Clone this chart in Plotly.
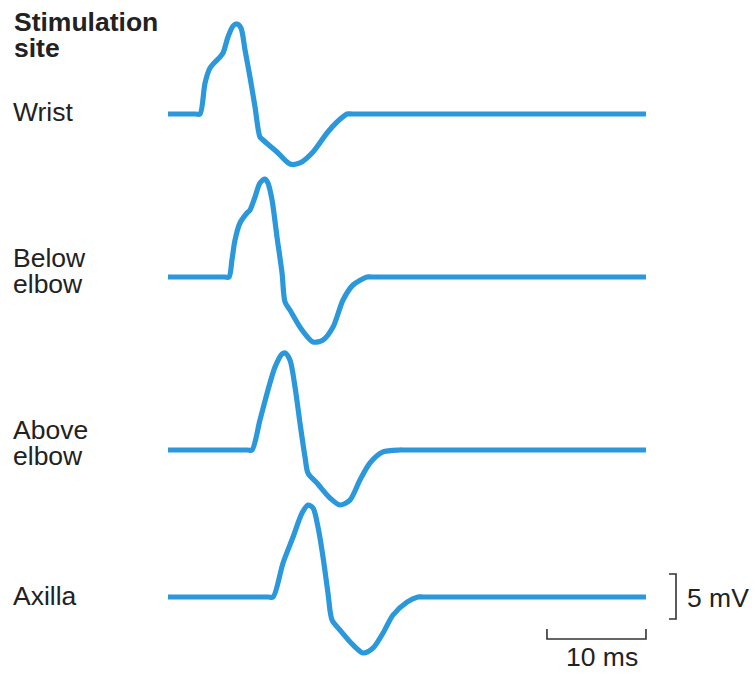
import plotly.graph_objects as go

# ---- Data (time in ms, amplitude in mV relative to baseline) ----
sites = ["Wrist", "Below elbow", "Above elbow", "Axilla"]

wrist_t = [0, 2.8, 3.23, 3.74, 4.24, 4.75, 5.25, 5.56, 6.06, 6.57, 6.97, 7.37, 7.78, 8.28, 8.79,
           9.29, 9.60, 11.01, 12.32, 13.33, 14.65, 16.06, 17.07, 18.08, 18.6, 48.28]
wrist_v = [0, 0, 0, 3.44, 5.11, 5.78, 6.33, 6.78, 8.56, 9.78, 10.0, 9.56, 7.11, 4.11, 0.78,
           -2.56, -2.89, -4.22, -5.56, -5.44, -4.22, -2.11, -0.89, 0, 0, 0]

below_t = [0, 5.7, 6.16, 6.46, 6.77, 7.27, 7.98, 8.28, 8.79, 9.29, 9.80, 10.10, 10.51, 11.01, 11.52,
           11.82, 12.32, 13.33, 14.65, 15.66, 16.67, 17.68, 18.69, 20.10, 20.6, 48.28]
below_v = [0, 0, 0, 1.89, 4.11, 6.0, 7.11, 7.44, 8.89, 10.44, 10.89, 10.44, 8.56, 4.44, 0.44,
           -2.78, -3.67, -5.56, -7.22, -7.0, -5.56, -2.56, -0.89, 0, 0, 0]

above_t = [0, 8.0, 8.48, 9.29, 10.10, 10.81, 11.52, 11.82, 12.32, 12.83, 13.33, 13.84, 14.14, 15.05,
           16.36, 17.37, 18.38, 19.39, 20.40, 21.72, 23.43, 23.9, 48.28]
above_v = [0, 0, 0, 3.33, 6.67, 9.22, 10.67, 10.78, 10.0, 7.0, 3.0, -0.78, -2.56, -3.67,
           -5.33, -6.11, -5.56, -3.33, -1.44, -0.22, 0, 0, 0]

axilla_t = [0, 10.1, 10.61, 11.62, 12.63, 13.54, 14.14, 14.65, 15.15, 15.66, 16.16, 16.57, 17.37,
            18.69, 19.70, 20.71, 21.72, 22.73, 24.14, 25.25, 25.8, 48.28]
axilla_v = [0, 0, 0, 3.78, 6.67, 9.33, 10.22, 9.89, 7.78, 4.44, 0.44, -2.56, -3.67,
            -5.33, -6.22, -5.67, -4.0, -2.0, -0.56, 0, 0, 0]

scale_ms = 10
scale_mv = 5
scale_labels = ["10 ms", "5 mV"]

# ---- Layout constants ----
W, H = 754, 673
PX_PER_MS = 9.9
PX_PER_MV = 9.0
X0_PX = 168
baselines_px = [114, 277, 450, 597]
offsets = [-b / PX_PER_MV for b in baselines_px]

COLOR = "#2a98da"
TEXT = "#222222"
FONT = "Liberation Sans, Arial, Helvetica, sans-serif"
FS = 26.5

series = [(wrist_t, wrist_v), (below_t, below_v), (above_t, above_v), (axilla_t, axilla_v)]

fig = go.Figure()
for name, (t, v), off in zip(sites, series, offsets):
    fig.add_trace(go.Scatter(
        x=t, y=[val + off for val in v], mode="lines", name=name,
        line=dict(color=COLOR, width=5.2, shape="spline", smoothing=0.8),
        hoverinfo="skip", showlegend=False,
    ))

def px2t(px):
    return (px - X0_PX) / PX_PER_MS

def py2v(py):
    return -py / PX_PER_MV

t_end = wrist_t[-1]
hb_y = py2v(639)
tick_h = 10 / PX_PER_MV
bar_col = "#333333"
# horizontal 10 ms bar
fig.add_shape(type="path",
              path=f"M {t_end - scale_ms},{hb_y + tick_h} L {t_end - scale_ms},{hb_y} L {t_end},{hb_y} L {t_end},{hb_y + tick_h}",
              line=dict(color=bar_col, width=1.6))
# vertical 5 mV bar
vb_x = px2t(676)
vb_top = py2v(574)
tick_w = 7 / PX_PER_MS
fig.add_shape(type="path",
              path=f"M {vb_x - tick_w},{vb_top} L {vb_x},{vb_top} L {vb_x},{vb_top - scale_mv} L {vb_x - tick_w},{vb_top - scale_mv}",
              line=dict(color=bar_col, width=1.6))

def ann(text, xpx, ypx, xanchor="left", bold=False):
    fig.add_annotation(
        text=f"<b>{text}</b>" if bold else text,
        xref="paper", yref="paper", x=xpx / W, y=1 - ypx / H,
        xanchor=xanchor, yanchor="middle", showarrow=False,
        font=dict(family=FONT, size=FS, color=TEXT),
    )

ann("Stimulation", 12, 22, bold=True)
ann("site", 12, 48, bold=True)
ann("Wrist", 11, 112)
ann("Below", 11, 258)
ann("elbow", 11, 284)
ann("Above", 11, 430)
ann("elbow", 11, 456)
ann("Axilla", 11, 596)
ann(scale_labels[1], 685, 598)
ann(scale_labels[0], 602, 657, xanchor="center")

fig.update_layout(
    width=W, height=H,
    margin=dict(l=0, r=0, t=0, b=0),
    paper_bgcolor="white", plot_bgcolor="white",
    xaxis=dict(range=[px2t(0), px2t(W)], visible=False, fixedrange=True),
    yaxis=dict(range=[py2v(H), py2v(0)], visible=False, fixedrange=True),
    showlegend=False,
)

fig.write_html("out.html", config={"displayModeBar": False},
               post_script="document.body.style.margin='0';document.body.style.overflow='hidden';")
